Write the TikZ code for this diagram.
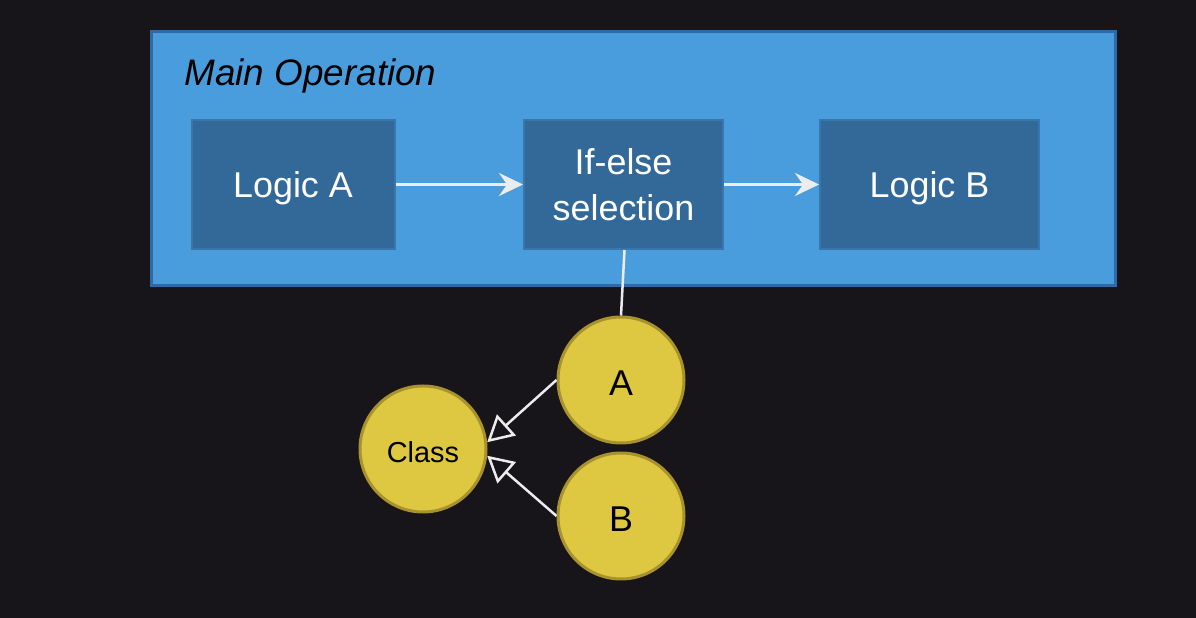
\documentclass[tikz,border=0pt]{standalone}
\usepackage{fontspec}
\setmainfont{Liberation Sans}
\usetikzlibrary{positioning,arrows.meta,calc}

\definecolor{bgdark}{HTML}{17141A}
\definecolor{opfill}{HTML}{4A9DDD}
\definecolor{opline}{HTML}{2D6AA7}
\definecolor{stepfill}{HTML}{336999}
\definecolor{stepline}{HTML}{3A76AE}
\definecolor{classfill}{HTML}{DEC841}
\definecolor{classline}{HTML}{A8922D}
\definecolor{wire}{HTML}{ECECEC}

\begin{document}
\begin{tikzpicture}[x=1bp,y=1bp,node distance=330bp,on grid,
    every node/.style={font=\fontsize{36}{46}\selectfont}]

  \tikzset{
    opbox/.style={draw=opline,line width=3bp,fill=opfill,inner sep=0pt},
    logicbox/.style={draw=stepline,line width=2bp,fill=stepfill,text=white,
      minimum height=129bp,align=center,inner sep=0pt,text depth=0pt},
    member/.style={circle,draw=classline,line width=3bp,fill=classfill,
      minimum size=126bp,inner sep=0pt,text depth=0pt,text height=32bp},
    flow/.style={draw=wire,line width=2.5bp,-{Stealth[length=24bp,width=23bp,inset=8bp]}},
    inherit/.style={draw=wire,line width=2.5bp,-{Triangle[open,length=26bp,width=28bp]}},
  }

  \fill[bgdark] (0,0) rectangle (1196,618);
  \useasboundingbox (0,0) rectangle (1196,618);

  % container
  \node[opbox,minimum width=964bp,minimum height=254bp] (main) at (633.5,459.5) {};
  \node[anchor=base west,font=\fontsize{37}{42}\selectfont\itshape] (title)
    at (181,532) {Main Operation};

  \node[logicbox,minimum width=203bp] (logicA) at (293,433.5) {Logic A};
  \node[logicbox,minimum width=199bp] (ifelse) [right=330.5bp of logicA] {If-else\\selection};
  \node[logicbox,minimum width=219bp] (logicB) [right=306bp of ifelse] {Logic B};

  \path[flow] (logicA) -- (ifelse);
  \path[flow] (ifelse) -- (logicB);

  % classes
  \node[member] (a) at (621,238) {A};
  \node[member] (b) [below=136bp of a] {B};
  \node[member,font=\fontsize{29}{34}\selectfont,text height=27bp] (cls) at (423,169) {Class};

  \draw[wire,line width=2.5bp] ($(ifelse.south)+(1,0)$) -- (a.north);
  \path[inherit] (a.west) -- (cls.6);
  \path[inherit] (b.west) -- (cls.-6);

\end{tikzpicture}
\end{document}
